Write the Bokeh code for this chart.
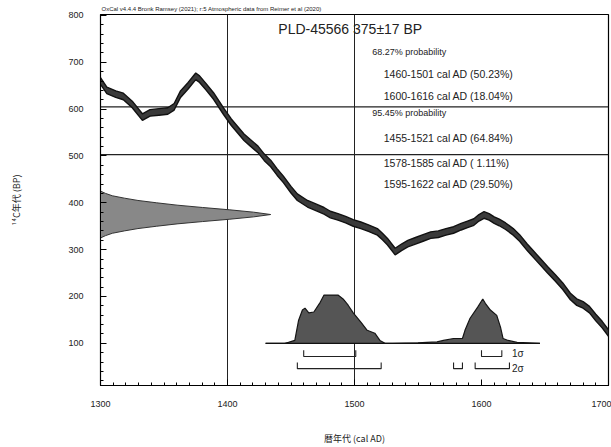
from bokeh.plotting import figure
from bokeh.models import Range1d, FixedTicker
from bokeh.embed import file_html
from bokeh.resources import INLINE
from bokeh.core.properties import value

# --- calibration curve segment (cal AD vs 14C BP) ---
curve_year = [1300, 1305, 1312, 1318, 1325, 1333, 1339, 1346, 1353, 1358, 1363, 1369,
              1375, 1378, 1383, 1389, 1397, 1403, 1408, 1413, 1418, 1424, 1429, 1434,
              1439, 1444, 1450, 1455, 1463, 1470, 1476, 1481, 1487, 1493, 1499, 1505,
              1511, 1518, 1522, 1526, 1532, 1537, 1542, 1548, 1554, 1560, 1566, 1572,
              1578, 1584, 1589, 1594, 1598, 1602, 1606, 1610, 1614, 1619, 1625, 1630,
              1636, 1641, 1646, 1652, 1658, 1664, 1670, 1675, 1680, 1685, 1690, 1695, 1700]
curve_bp = [660, 640, 632, 627, 610, 583, 592, 594, 596, 605, 632, 650,
            670, 664, 648, 628, 595, 572, 556, 540, 528, 514, 497, 484,
            466, 450, 428, 412, 398, 390, 383, 375, 370, 364, 357, 352,
            346, 338, 328, 317, 296, 305, 313, 319, 325, 331, 333, 338,
            342, 349, 354, 359, 368, 374, 370, 363, 358, 350, 338, 325,
            305, 290, 275, 257, 240, 222, 200, 188, 182, 172, 155, 140, 122]
curve_err = 7

# --- measured radiocarbon age ---
lab_code = "PLD-45566"
c14_age = 375
c14_err = 17
gauss_offset = [-50, -45, -40, -35, -30, -25, -20, -15, -10, -5, 0,
                5, 10, 15, 20, 25, 30, 35, 40, 45, 50]
gauss_amp = [0.0, 0.03, 0.07, 0.14, 0.22, 0.33, 0.45, 0.6, 0.76, 0.9, 1.0,
             0.9, 0.76, 0.6, 0.45, 0.33, 0.22, 0.14, 0.07, 0.03, 0.0]

# --- calibrated probability distribution (relative) ---
cal_year = [1430, 1445, 1448, 1453, 1456, 1459, 1461, 1464, 1468, 1473, 1476, 1482,
            1487, 1491, 1495, 1499, 1505, 1510, 1516, 1520, 1524, 1530, 1550, 1557,
            1565, 1570, 1578, 1585, 1587, 1591, 1597, 1601, 1603, 1607, 1612, 1615,
            1617, 1621, 1628, 1646]
cal_prob = [0.0, 0.0, 0.02, 0.06, 0.48, 0.69, 0.73, 0.63, 0.65, 0.85, 1.0, 1.0,
            1.0, 0.92, 0.79, 0.63, 0.44, 0.27, 0.21, 0.06, 0.0, 0.0, 0.01, 0.02,
            0.03, 0.06, 0.1, 0.1, 0.27, 0.52, 0.75, 0.92, 0.83, 0.69, 0.58, 0.33,
            0.1, 0.06, 0.02, 0.0]

# --- calibrated ranges ---
ranges_1s = [(1460, 1501), (1600, 1616)]
pct_1s = [50.23, 18.04]
ranges_2s = [(1455, 1521), (1578, 1585), (1595, 1622)]
pct_2s = [64.84, 1.11, 29.50]

x_ticks = [1300, 1400, 1500, 1600, 1700]
y_ticks = [100, 200, 300, 400, 500, 600, 700, 800]
guide_years = [1400, 1500]
divider_bp = [605, 503]

header = "OxCal v4.4.4 Bronk Ramsey (2021); r:5 Atmospheric data from Reimer et al (2020)"

SANS = "Liberation Sans"
CJK = "Noto Sans CJK JP"

p = figure(width=611, height=447, output_backend="svg", toolbar_location=None,
           x_range=Range1d(1300, 1700), y_range=Range1d(10, 802),
           min_border_left=100, min_border_right=3, min_border_top=0,
           min_border_bottom=62, title=header)
p.title.text_font = SANS
p.title.text_font_size = "6px"
p.title.text_font_style = "normal"
p.title.text_color = "#222222"
p.title.standoff = 6
p.title.offset = 1
p.background_fill_color = "white"
p.border_fill_color = "white"
p.outline_line_color = "black"
p.outline_line_width = 1.2
p.xgrid.grid_line_color = None
p.ygrid.grid_line_color = None

# axes with inward ticks
for ax in (p.xaxis[0], p.yaxis[0]):
    ax.major_tick_in = 6
    ax.major_tick_out = 0
    ax.minor_tick_in = 3
    ax.minor_tick_out = 0
    ax.axis_line_color = "black"
    ax.major_label_text_font = SANS
    ax.major_label_text_font_size = "9px"
    ax.major_label_text_color = "#222222"
    ax.axis_label_text_font = CJK
    ax.axis_label_text_font_style = "normal"
    ax.axis_label_text_font_size = "9px"
    ax.axis_label_text_color = "#222222"

p.xaxis.ticker = FixedTicker(ticks=x_ticks,
                             minor_ticks=list(range(1300, 1701, 10)))
p.yaxis.ticker = FixedTicker(ticks=y_ticks,
                             minor_ticks=list(range(20, 801, 20)))
p.xaxis.major_label_standoff = 15
p.yaxis.major_label_standoff = 17
p.xaxis.axis_label = "暦年代 (cal AD)"
p.yaxis.axis_label = "¹⁴C年代 (BP)"
p.xaxis.axis_label_standoff = 22
p.yaxis.axis_label_standoff = 42

# guide lines
for yr in guide_years:
    p.segment(x0=yr, y0=10, x1=yr, y1=802, line_color="#222222", line_width=1)
for bp in divider_bp:
    p.segment(x0=1300, y0=bp, x1=1700, y1=bp, line_color="#222222", line_width=1.2)

# measured age as a normal distribution on the 14C axis
amp_years = 134
gx = [1300] + [1300 + a * amp_years for a in gauss_amp] + [1300]
gy = [c14_age + gauss_offset[0]] + [c14_age + o for o in gauss_offset] + [c14_age + gauss_offset[-1]]
p.patch(gx, gy, fill_color="#888888", line_color="#333333", line_width=1)

# calibration curve band
lo = [b - curve_err for b in curve_bp]
hi = [b + curve_err for b in curve_bp]
p.varea(x=curve_year, y1=lo, y2=hi, fill_color="#3a3a3a")
p.line(curve_year, lo, line_color="#111111", line_width=1.4)
p.line(curve_year, hi, line_color="#111111", line_width=1.4)

# calibrated distribution
base_bp = 100
prob_scale = 103
top = [base_bp + v * prob_scale for v in cal_prob]
p.varea(x=cal_year, y1=[base_bp] * len(cal_year), y2=top, fill_color="#555555")
p.line(cal_year, top, line_color="#151515", line_width=1.2)
p.segment(x0=cal_year[0], y0=base_bp, x1=cal_year[-1], y1=base_bp,
          line_color="#111111", line_width=1.2)

# range brackets
def brackets(ranges, level, color="#222222"):
    for a, b in ranges:
        p.line([a, a, b, b], [level + 13, level, level, level + 13],
               line_color=color, line_width=1.1)

brackets(ranges_1s, 72)
brackets(ranges_2s, 46)
p.text(x=[1624, 1624], y=[78, 47], text=["1σ", "2σ"],
       text_font=value(SANS), text_font_size="10px", text_color="#222222",
       text_baseline="middle")

# result text block
p.text(x=[1440], y=[770], text=[f"{lab_code} {c14_age}±{c14_err} BP"],
       text_font=value(SANS), text_font_size="14px", text_color="#222222",
       text_baseline="middle")
p.text(x=[1514, 1514], y=[723, 592], text=["68.27% probability", "95.45% probability"],
       text_font=value(SANS), text_font_size="9px", text_color="#222222",
       text_baseline="middle")
lines = [f"{a}-{b} cal AD ({pc:5.2f}%)" for (a, b), pc in zip(ranges_1s, pct_1s)] + \
        [f"{a}-{b} cal AD ({pc:5.2f}%)" for (a, b), pc in zip(ranges_2s, pct_2s)]
p.text(x=[1523] * 5, y=[676, 629, 539, 485, 440], text=lines,
       text_font=value(SANS), text_font_size="10.5px", text_color="#222222",
       text_baseline="middle")

open("out.html", "w").write(file_html(p, INLINE))
